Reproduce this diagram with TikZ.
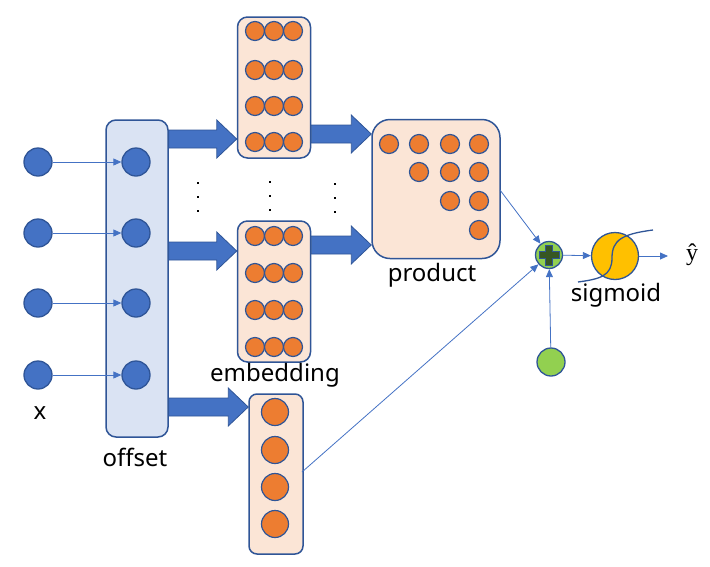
\documentclass[tikz,border=0pt]{standalone}
\usepackage{fontspec}
\setmainfont{Noto Sans}
\newfontfamily\serifhat{Liberation Serif}
\usetikzlibrary{arrows.meta,calc}
\definecolor{bfill}{HTML}{4472C4}
\definecolor{bline}{HTML}{2F5597}
\definecolor{ofill}{HTML}{ED7D31}
\definecolor{pfill}{HTML}{FBE5D6}
\definecolor{lfill}{HTML}{DAE3F3}
\definecolor{gfill}{HTML}{92D050}
\definecolor{dgreen}{HTML}{375623}
\definecolor{yfill}{HTML}{FFC000}
\tikzset{
  bdot/.style={circle,draw=bline,line width=1.3pt,fill=bfill,minimum size=28pt,inner sep=0pt},
  odot/.style={circle,draw=bline,line width=1.2pt,fill=ofill,minimum size=19pt,inner sep=0pt},
  obig/.style={circle,draw=bline,line width=1.2pt,fill=ofill,minimum size=27pt,inner sep=0pt},
  panel/.style={draw=bline,line width=1.5pt,fill=pfill,rounded corners=10pt,inner sep=0pt},
  thin/.style={draw=bfill,line width=0.8pt,-{Triangle[length=8pt,width=7pt]}},
  blockarrow/.style={fill=bfill,draw=bline,line width=0.8pt},
  lbl/.style={font=\fontsize{24}{27}\selectfont,inner sep=0pt},
  vdots/.style={fill=black,inner sep=0pt,minimum size=1.6pt}
}
\newcommand\blockarr[3]{%
  \path let \p1=(#1), \p2=(#2) in [blockarrow]
   (\x1,\y1+9) -- (\x2-#3,\y1+9) -- (\x2-#3,\y1+19) -- (\x2,\y1) --
   (\x2-#3,\y1-19) -- (\x2-#3,\y1-9) -- (\x1,\y1-9) -- cycle;}
\begin{document}
\begin{tikzpicture}[x=1pt,y=-1pt]
\useasboundingbox (0,0) rectangle (710,566);
% offset box
\node[panel,fill=lfill,minimum width=62pt,minimum height=317pt] (off) at (137,278.5) {};
\node[lbl] (offl) at (135,457) {offset};
% inputs
\foreach \i/\y in {1/162,2/233,3/303,4/375}{
  \node[bdot] (x\i) at (38,\y) {};
  \node[bdot] (o\i) at (136,\y) {};
  \draw[thin] (x\i) -- (o\i);
}
\node[lbl] (xl) at (40,413) {x};
% embedding boxes
\node[panel,minimum width=73pt,minimum height=141pt] (e1) at (274,87.5) {};
\node[panel,minimum width=73pt,minimum height=141pt] (e2) at (274,291.5) {};
\foreach \r/\y in {1/31,2/70,3/106,4/142}{
  \foreach \c/\x in {1/255,2/274,3/293}{
    \node[odot] (ea\r\c) at (\x,\y) {};
  }
}
\foreach \r/\y in {1/236,2/273,3/310,4/347}{
  \foreach \c/\x in {1/255,2/274,3/293}{
    \node[odot] (eb\r\c) at (\x,\y) {};
  }
}
\node[lbl] (embl) at (275,375) {embedding};
% bottom box
\node[panel,rounded corners=8pt,minimum width=54pt,minimum height=160pt] (e3) at (276,474) {};
\foreach \r/\y in {1/412,2/450,3/487,4/524}{
  \node[obig] (ec\r) at (275,\y) {};
}
% product box
\node[panel,rounded corners=18pt,minimum width=128pt,minimum height=139pt] (prod) at (436,189) {};
\foreach \c/\x in {1/389,2/419,3/450,4/479}{
  \foreach \r/\y in {1/144,2/172,3/201,4/230}{
    \pgfmathtruncatemacro\ok{\c>=\r ? 1 : 0}
    \ifnum\ok=1 \node[odot] (p\r\c) at (\x,\y) {};\fi
  }
}
\node[lbl] (prodl) at (432,275) {product};
% dots
\foreach \x/\d in {198/0,270/-1,335/1}{
  \foreach \y in {183,197,211}{
    \node[vdots] at (\x,\y+\d) {};
  }
}
% block arrows
\coordinate (r1) at (0,139);
\coordinate (r2) at (0,251);
\coordinate (r3) at (0,407);
\coordinate (r4) at (0,134);
\coordinate (r5) at (0,245);
\blockarr{off.east |- r1}{e1.west |- r1}{20}
\blockarr{off.east |- r2}{e2.west |- r2}{20}
\blockarr{off.east |- r3}{e3.west |- r3}{20}
\blockarr{e1.east |- r4}{prod.west |- r4}{20}
\blockarr{e2.east |- r5}{prod.west |- r5}{20}
% plus node
\node[circle,draw=bline,line width=1.3pt,fill=gfill,minimum size=27pt,inner sep=0pt] (plus) at (549,255) {};
\path[fill=dgreen,draw=bline,line width=0.6pt]
  ($(plus)+(-3.5,-10)$) -- ($(plus)+(3.5,-10)$) -- ($(plus)+(3.5,-3.5)$) -- ($(plus)+(10,-3.5)$)
  -- ($(plus)+(10,3.5)$) -- ($(plus)+(3.5,3.5)$) -- ($(plus)+(3.5,10)$) -- ($(plus)+(-3.5,10)$)
  -- ($(plus)+(-3.5,3.5)$) -- ($(plus)+(-10,3.5)$) -- ($(plus)+(-10,-3.5)$) -- ($(plus)+(-3.5,-3.5)$) -- cycle;
% bias
\node[circle,draw=bline,line width=1.3pt,fill=gfill,minimum size=28pt,inner sep=0pt] (bias) at (551,362) {};
% sigmoid
\node[circle,draw=bline,line width=1.3pt,fill=yfill,minimum size=47pt,inner sep=0pt] (sig) at (615,256) {};
\draw[bline,line width=1.3pt] (578,282) .. controls (600,279) and (612,276) .. (612,258)
  .. controls (612,240) and (622,234) .. (653,230);
\node[lbl] (sigl) at (616,295) {sigmoid};
\coordinate (out) at (668,256);
\node[font=\serifhat\fontsize{24}{26}\selectfont,inner sep=0pt] (yhat) at (692,255) {ŷ};
% connectors
\coordinate (pe) at (500,190);
\coordinate (be) at (302,472);
\draw[thin] (pe) -- (plus);
\draw[thin] (be) -- (plus);
\draw[thin] (bias) -- (plus);
\draw[thin] (plus) -- (sig);
\draw[thin] (sig.east) -- (out);
\end{tikzpicture}
\end{document}
